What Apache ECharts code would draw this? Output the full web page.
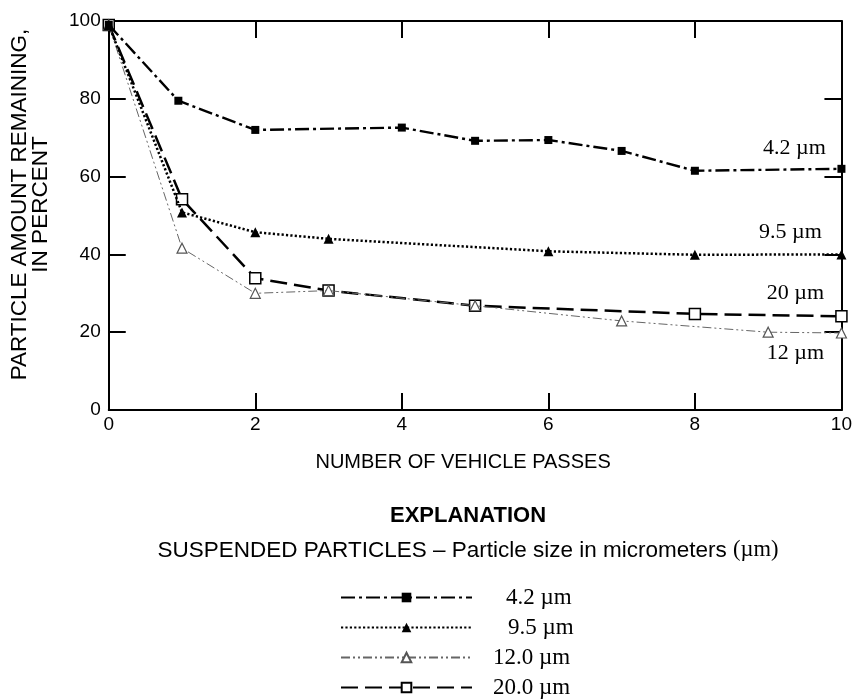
<!DOCTYPE html>
<html>
<head>
<meta charset="utf-8">
<script src="https://cdn.jsdelivr.net/npm/echarts@6/dist/echarts.min.js"></script>
<style>html,body{margin:0;padding:0;background:#fff}#c{width:855px;height:700px}</style>
</head>
<body>
<div id="c"></div>
<script>
// Data
const xTicks = [0, 2, 4, 6, 8, 10];
const yTicks = [0, 20, 40, 60, 80, 100];
const seriesNames = ['4.2 µm', '9.5 µm', '12.0 µm', '20.0 µm'];
const endLabels = ['4.2 µm', '9.5 µm', '12 µm', '20 µm'];
const passes42 = [0, 0.95, 2, 4, 5, 6, 7, 8, 10];
const values42 = [99, 79.5, 72, 72.6, 69.2, 69.4, 66.6, 61.5, 62];
const passes95 = [0, 1, 2, 3, 6, 8, 10];
const values95 = [99, 50.8, 45.7, 44, 40.8, 39.9, 40];
const passes12 = [0, 1, 2, 3, 5, 7, 9, 10];
const values12 = [99, 41.6, 30, 30.7, 26.8, 22.9, 20, 19.8];
const passes20 = [0, 1, 2, 3, 5, 8, 10];
const values20 = [99, 54.2, 33.9, 30.7, 26.8, 24.7, 24.1];

const SANS = '"Liberation Sans", Arial, sans-serif';
const SERIF = '"Liberation Serif", "Times New Roman", serif';

function pairs(xs, ys, label) {
  return xs.map((x, i) => {
    const item = { value: [x, ys[i]] };
    if (i === xs.length - 1) item.label = label;
    return item;
  });
}
function endLabel(text, pos, off) {
  return { show: true, formatter: text, position: pos, offset: off,
    fontFamily: SERIF, fontSize: 22, color: '#000' };
}

const chart = echarts.init(document.getElementById('c'));
const axisLine = { show: true, onZero: false, lineStyle: { color: '#000', width: 2 } };
const axisTick = { show: true, inside: true, length: 17, lineStyle: { color: '#000', width: 2 } };

chart.setOption({
  animation: false,
  backgroundColor: '#fff',
  title: {
    text: 'EXPLANATION',
    subtext: 'SUSPENDED PARTICLES – Particle size in micrometers {s|(µm)}',
    left: 463, top: 500, textAlign: 'center', itemGap: 12,
    textStyle: { fontFamily: SANS, fontWeight: 'bold', fontSize: 22, color: '#000' },
    subtextStyle: { fontFamily: SANS, fontSize: 22.5, color: '#000',
      rich: { s: { fontFamily: SERIF, fontSize: 22.5, color: '#000' } } }
  },
  legend: {
    orient: 'vertical', left: 340, top: 586, height: 160, padding: 0,
    itemWidth: 131, itemHeight: 12, itemGap: 7,
    textStyle: { fontFamily: SERIF, fontSize: 23, color: '#000', lineHeight: 23 },
    data: [
      { name: seriesNames[0], textStyle: { padding: [0, 0, 0, 29] } },
      { name: seriesNames[1], textStyle: { padding: [0, 0, 0, 31] } },
      { name: seriesNames[2], textStyle: { padding: [0, 0, 0, 16] } },
      { name: seriesNames[3], textStyle: { padding: [0, 0, 0, 16] } }
    ]
  },
  grid: { left: 106, right: 12, top: 21, bottom: 290, containLabel: false },
  xAxis: [{
    type: 'value', min: xTicks[0], max: xTicks[xTicks.length - 1], interval: 2,
    name: 'NUMBER OF VEHICLE PASSES', nameLocation: 'middle', nameGap: 42,
    nameTextStyle: { fontFamily: SANS, fontSize: 20, color: '#000', padding: [0, 24, 0, 0] },
    axisLine, axisTick, splitLine: { show: false },
    axisLabel: { fontFamily: SANS, fontSize: 19, color: '#000', margin: 5 }
  }, {
    type: 'value', position: 'top', min: 0, max: 10, interval: 2,
    axisLine, axisTick, splitLine: { show: false }, axisLabel: { show: false }
  }],
  yAxis: [{
    type: 'value', min: yTicks[0], max: yTicks[yTicks.length - 1], interval: 20,
    name: 'PARTICLE AMOUNT REMAINING,\nIN PERCENT', nameLocation: 'middle', nameGap: 57,
    nameTextStyle: { fontFamily: SANS, fontSize: 22.5, color: '#000', lineHeight: 21.5, padding: [0, 0, 0, 22] },
    axisLine, axisTick, splitLine: { show: false },
    axisLabel: { fontFamily: SANS, fontSize: 19, color: '#000', margin: 8 }
  }, {
    type: 'value', position: 'right', min: 0, max: 100, interval: 20,
    axisLine, axisTick, splitLine: { show: false }, axisLabel: { show: false }
  }],
  series: [
    {
      name: seriesNames[0], type: 'line', symbol: 'rect', symbolSize: 8, showAllSymbol: true,
      lineStyle: { color: '#000', width: 2.4, type: [14, 4, 3, 4] },
      itemStyle: { color: '#000' }, z: 5,
      data: pairs(passes42, values42, endLabel(endLabels[0], 'top', [-47, -1]))
    },
    {
      name: seriesNames[1], type: 'line', symbol: 'triangle', symbolSize: 10, showAllSymbol: true,
      lineStyle: { color: '#000', width: 2.5, type: [2.2, 2.2] },
      itemStyle: { color: '#000' }, z: 4,
      data: pairs(passes95, values95, endLabel(endLabels[1], 'top', [-51, -1]))
    },
    {
      name: seriesNames[2], type: 'line', symbol: 'triangle', symbolSize: 10, showAllSymbol: true,
      lineStyle: { color: '#666', width: 1, type: [9, 3, 2, 3, 2, 3] },
      itemStyle: { color: '#fff', borderColor: '#555', borderWidth: 1.2 }, z: 3,
      data: pairs(passes12, values12, endLabel(endLabels[2], 'bottom', [-46, -1]))
    },
    {
      name: seriesNames[3], type: 'line', symbol: 'rect', symbolSize: 11, showAllSymbol: true,
      lineStyle: { color: '#000', width: 2.5, type: [17, 7] },
      itemStyle: { color: '#fff', borderColor: '#000', borderWidth: 1.5 }, z: 2,
      data: pairs(passes20, values20, endLabel(endLabels[3], 'top', [-46, -1]))
    }
  ]
});
</script>
</body>
</html>
